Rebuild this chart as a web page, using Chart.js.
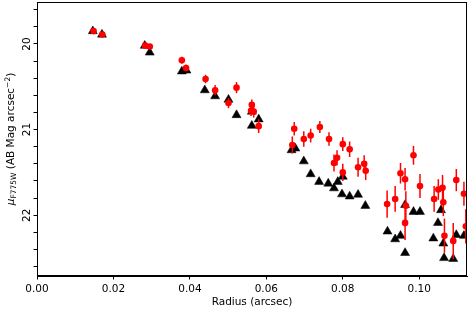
<!DOCTYPE html>
<html>
<head>
<meta charset="utf-8">
<script src="https://cdn.jsdelivr.net/npm/chart.js@4.4.1/dist/chart.umd.min.js"></script>
<style>
  body { margin: 0; background: #fff; }
  #wrap { width: 471px; height: 314px; }
</style>
</head>
<body>
<div id="wrap"><canvas id="profile" width="471" height="314"></canvas></div>
<script>
// red points (with errors)
const redRadius = [0.0148, 0.0171, 0.0283, 0.0295, 0.0379, 0.0390, 0.0441, 0.0466, 0.0501, 0.0522,
  0.0560, 0.0562, 0.0567, 0.0580, 0.0668, 0.0673, 0.0698, 0.0716, 0.0740, 0.0764,
  0.0777, 0.0785, 0.0800, 0.0800, 0.0818, 0.0840, 0.0856, 0.0860, 0.0916, 0.0937,
  0.0951, 0.0963, 0.0965, 0.0963, 0.0985, 0.1002, 0.1039, 0.1050, 0.1061, 0.1063,
  0.1066, 0.1089, 0.1097, 0.1117, 0.1122];
const redMu = [19.85, 19.89, 20.02, 20.03, 20.19, 20.28, 20.41, 20.54, 20.69, 20.51,
  20.78, 20.71, 20.79, 20.96, 21.18, 20.99, 21.11, 21.07, 20.97, 21.11,
  21.39, 21.33, 21.17, 21.50, 21.23, 21.44, 21.40, 21.48, 21.87, 21.81,
  21.51, 21.58, 21.89, 22.09, 21.30, 21.66, 21.81, 21.70, 21.68, 21.85,
  22.24, 22.30, 21.59, 21.75, 22.13];
const redErr = [0.02, 0.02, 0.02, 0.02, 0.04, 0.04, 0.05, 0.06, 0.06, 0.065,
  0.06, 0.06, 0.07, 0.08, 0.10, 0.08, 0.09, 0.08, 0.07, 0.08,
  0.10, 0.09, 0.08, 0.10, 0.09, 0.11, 0.10, 0.11, 0.16, 0.15,
  0.12, 0.13, 0.17, 0.20, 0.11, 0.14, 0.15, 0.12, 0.15, 0.16,
  0.20, 0.21, 0.13, 0.14, 0.20];

// black triangles
const blackRadius = [0.0146, 0.0170, 0.0282, 0.0295, 0.0379, 0.0391, 0.0439, 0.0466, 0.0501, 0.0522,
  0.0562, 0.0562, 0.0580, 0.0666, 0.0676, 0.0698, 0.0716, 0.0738, 0.0762, 0.0777,
  0.0787, 0.0800, 0.0798, 0.0818, 0.0840, 0.0859, 0.0917, 0.0937, 0.0951, 0.0963,
  0.0963, 0.0985, 0.1002, 0.1037, 0.1049, 0.1057, 0.1063, 0.1065, 0.1089, 0.1097,
  0.1117];
const blackMu = [19.85, 19.89, 20.02, 20.10, 20.32, 20.31, 20.54, 20.61, 20.65, 20.83,
  20.79, 20.955, 20.88, 21.24, 21.22, 21.37, 21.52, 21.61, 21.63, 21.685,
  21.61, 21.55, 21.755, 21.78, 21.76, 21.89, 22.19, 22.28, 22.24, 21.88,
  22.44, 21.96, 21.96, 22.27, 22.09, 21.94, 22.33, 22.50, 22.51, 22.23,
  22.24];

const xTicks = [0, 0.02, 0.04, 0.06, 0.08, 0.10];
const yTicks = [19.6, 19.8, 20, 20.2, 20.4, 20.6, 20.8, 21, 21.2, 21.4, 21.6, 21.8, 22, 22.2, 22.4, 22.6];
const yLabels = [20, 21, 22];

const FONT = 'DejaVu Sans';

const errorBars = {
  id: 'errorBars',
  afterDatasetDraw(chart, args) {
    if (args.index !== 1) return;
    const ctx = chart.ctx, xs = chart.scales.x, ys = chart.scales.y;
    const area = chart.chartArea;
    ctx.save();
    ctx.beginPath();
    ctx.rect(area.left, area.top, area.right - area.left, area.bottom - area.top);
    ctx.clip();
    ctx.strokeStyle = '#ff0000';
    ctx.lineWidth = 1.5;
    redRadius.forEach((r, i) => {
      const px = xs.getPixelForValue(r);
      ctx.beginPath();
      ctx.moveTo(px, ys.getPixelForValue(redMu[i] - redErr[i]));
      ctx.lineTo(px, ys.getPixelForValue(redMu[i] + redErr[i]));
      ctx.stroke();
    });
    ctx.restore();
  }
};

const frameAndLabels = {
  id: 'frameAndLabels',
  afterDraw(chart) {
    const ctx = chart.ctx, a = chart.chartArea, ys = chart.scales.y;
    ctx.save();
    ctx.strokeStyle = '#000';
    ctx.lineWidth = 1;
    ctx.strokeRect(Math.round(a.left) + 0.5, Math.round(a.top) + 0.5,
      Math.round(a.right - a.left) - 1, Math.round(a.bottom - a.top) - 1);

    // rotated y tick labels
    ctx.fillStyle = '#000';
    ctx.font = '10.5px ' + FONT;
    ctx.textAlign = 'center';
    ctx.textBaseline = 'alphabetic';
    yLabels.forEach(v => {
      ctx.save();
      ctx.translate(a.left - 7, ys.getPixelForValue(v));
      ctx.rotate(-Math.PI / 2);
      ctx.fillText(String(v), 0, 0);
      ctx.restore();
    });

    // y title with subscript and superscript
    const parts = [
      { t: '\u03bc', f: 'italic 10.5px ' + FONT, dy: 0 },
      { t: 'F775W', f: '7.5px ' + FONT, dy: 2.5 },
      { t: ' (AB Mag arcsec', f: '10.5px ' + FONT, dy: 0 },
      { t: '\u22122', f: '7.5px ' + FONT, dy: -4 },
      { t: ')', f: '10.5px ' + FONT, dy: 0 }
    ];
    let total = 0;
    parts.forEach(p => { ctx.font = p.f; p.w = ctx.measureText(p.t).width; total += p.w; });
    ctx.translate(13.5, (a.top + a.bottom) / 2);
    ctx.rotate(-Math.PI / 2);
    ctx.textAlign = 'left';
    let x = -total / 2;
    parts.forEach(p => {
      ctx.font = p.f;
      ctx.fillText(p.t, x, p.dy);
      x += p.w;
    });
    ctx.restore();
  }
};

new Chart(document.getElementById('profile'), {
  type: 'scatter',
  data: {
    datasets: [{
      label: 'red',
      data: redRadius.map((r, i) => ({ x: r, y: redMu[i] })),
      pointStyle: 'circle',
      pointRadius: 3.3,
      pointBackgroundColor: '#ff0000',
      pointBorderWidth: 0
    }, {
      label: 'black',
      data: blackRadius.map((r, i) => ({ x: r, y: blackMu[i] })),
      pointStyle: 'triangle',
      pointRadius: 5.2,
      pointBackgroundColor: '#000000',
      pointBorderColor: '#000000',
      pointBorderWidth: 0.5
    }]
  },
  options: {
    responsive: false,
    animation: false,
    events: [],
    layout: { autoPadding: false, padding: { top: 2, right: 4, left: 0, bottom: 0 } },
    plugins: { legend: { display: false }, tooltip: { enabled: false } },
    scales: {
      x: {
        type: 'linear',
        min: 0,
        max: 0.1125,
        afterFit(scale) { scale.height = 38; },
        afterBuildTicks(scale) { scale.ticks = xTicks.map(v => ({ value: v })); },
        border: { display: true, color: '#000', width: 1 },
        grid: { drawOnChartArea: false, drawTicks: true, tickLength: 3.5, tickColor: '#000' },
        ticks: {
          color: '#000',
          font: { family: FONT, size: 10.5 },
          padding: 3,
          maxRotation: 0,
          callback: v => Number(v).toFixed(2)
        },
        title: {
          display: true,
          text: 'Radius (arcsec)',
          color: '#000',
          font: { family: FONT, size: 10.5 },
          padding: { top: 0, bottom: 5 }
        }
      },
      y: {
        type: 'linear',
        reverse: true,
        min: 19.51,
        max: 22.71,
        afterFit(scale) { scale.width = 37; },
        afterBuildTicks(scale) { scale.ticks = yTicks.map(v => ({ value: v })); },
        border: { display: true, color: '#000', width: 1 },
        grid: { drawOnChartArea: false, drawTicks: true, tickLength: 3.5, tickColor: '#000' },
        ticks: { display: false }
      }
    }
  },
  plugins: [errorBars, frameAndLabels]
});
</script>
</body>
</html>
